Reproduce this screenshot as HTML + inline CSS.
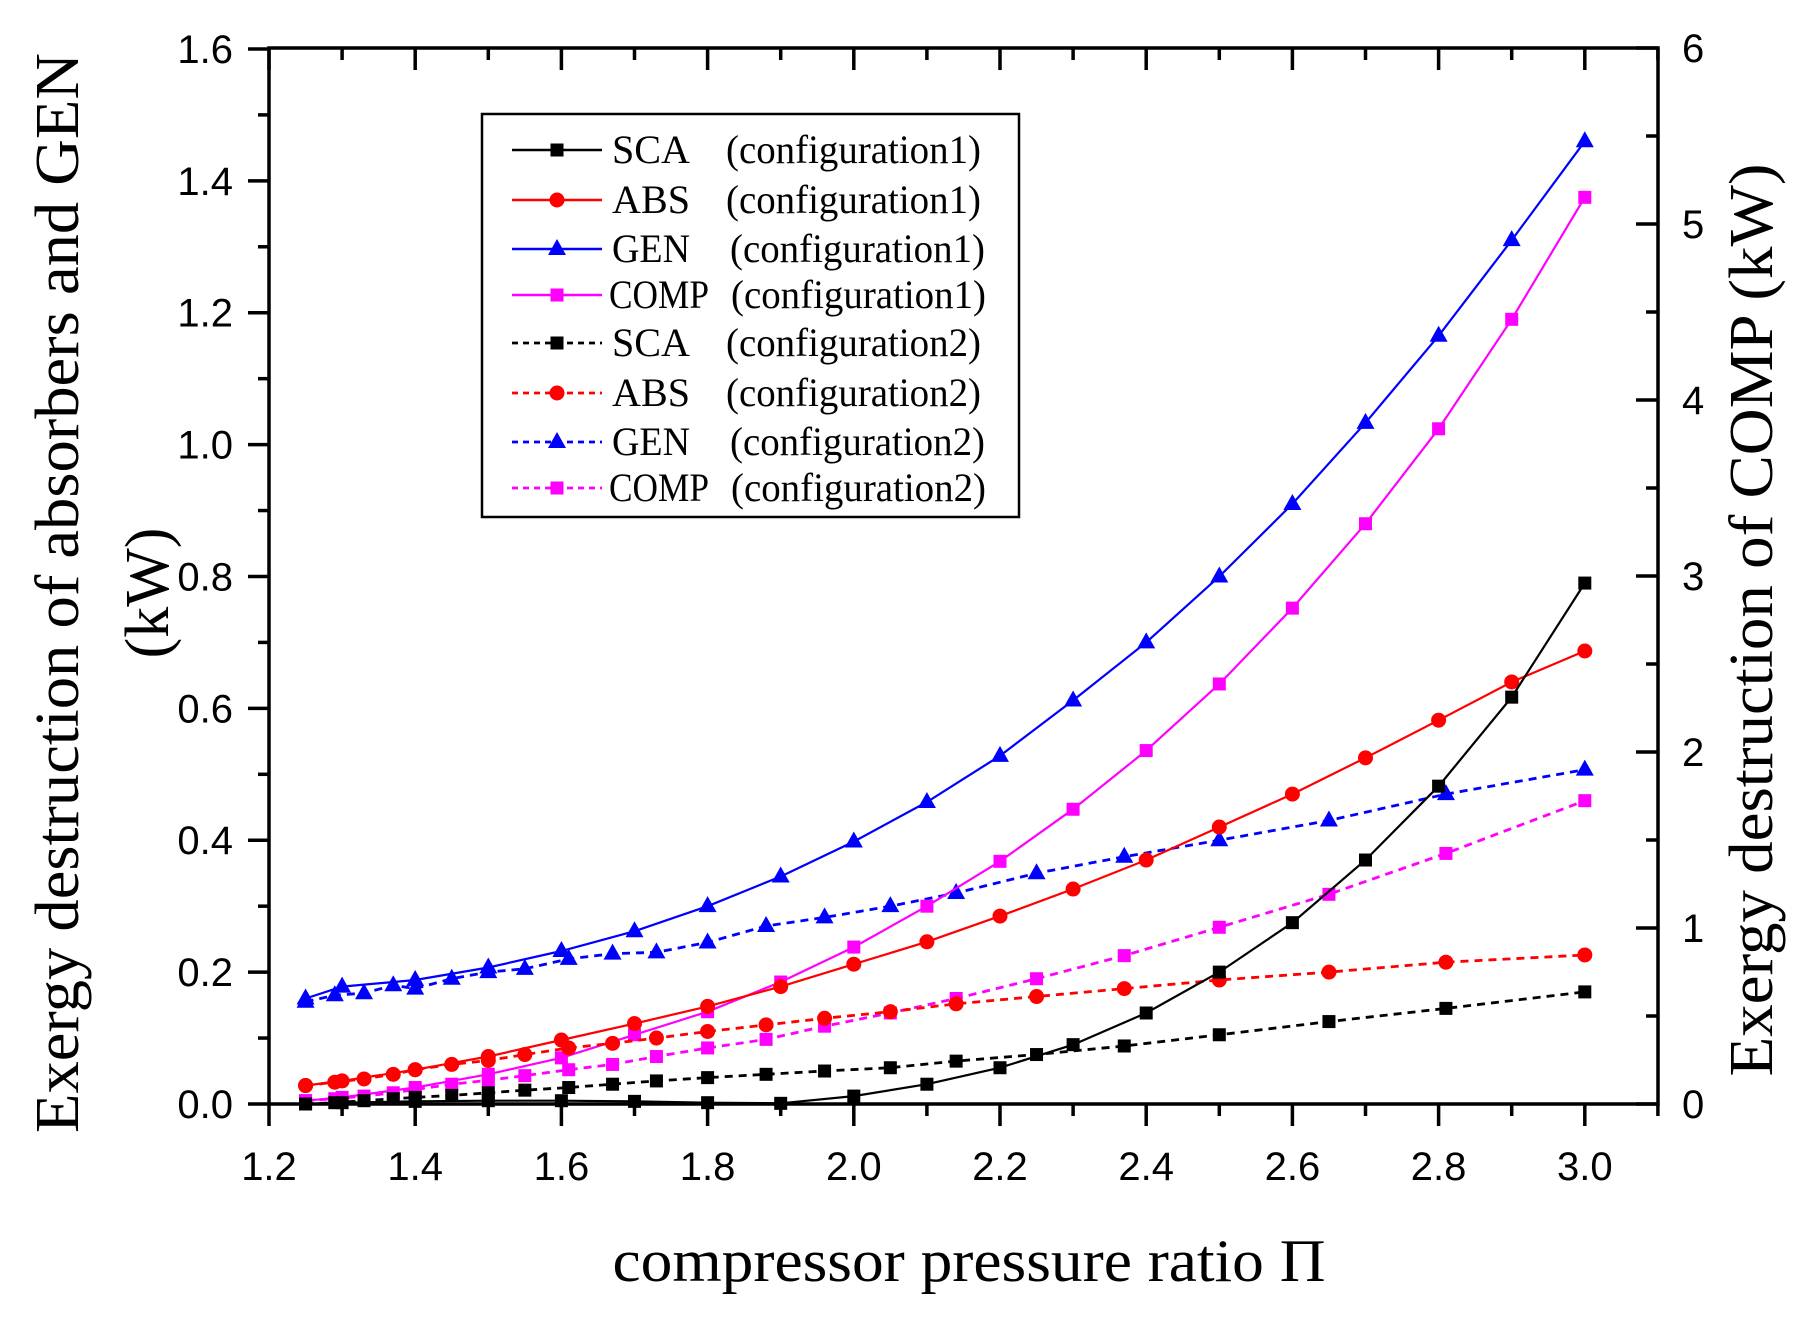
<!DOCTYPE html>
<html><head><meta charset="utf-8"><style>
html,body{margin:0;padding:0;background:#fff;}
svg{display:block;}
</style></head><body>
<svg id="s" width="1815" height="1321" viewBox="0 0 1815 1321" xmlns="http://www.w3.org/2000/svg">
<rect width="1815" height="1321" fill="#fff"/>
<g id="axes" stroke="#000" stroke-width="3.5" fill="none"></g>
<g id="series"></g>
<g font-family="Liberation Sans, sans-serif" font-size="40" fill="#000" id="ticklabels"></g>
<text transform="translate(78,593) rotate(-90)" text-anchor="middle" font-family="Liberation Serif, serif" font-size="62" textLength="1080" lengthAdjust="spacingAndGlyphs">Exergy destruction of absorbers and GEN</text>
<text transform="translate(168,593) rotate(-90)" text-anchor="middle" font-family="Liberation Serif, serif" font-size="62">(kW)</text>
<text transform="translate(1772,620) rotate(-90)" text-anchor="middle" font-family="Liberation Serif, serif" font-size="62" textLength="913" lengthAdjust="spacingAndGlyphs">Exergy destruction of COMP (kW)</text>
<text x="969" y="1281" text-anchor="middle" font-family="Liberation Serif, serif" font-size="60" textLength="713" lengthAdjust="spacingAndGlyphs">compressor pressure ratio Π</text>
<rect x="482" y="114" width="537" height="403" fill="#fff" stroke="#000" stroke-width="2.5"/>
<g id="legend" font-family="Liberation Serif, serif" font-size="40" fill="#000"></g>
</svg>
<script>
var NS="http://www.w3.org/2000/svg";
function el(t,a,p){var e=document.createElementNS(NS,t);for(var k in a)e.setAttribute(k,a[k]);p.appendChild(e);return e;}
var X=function(x){return 269+(x-1.2)*731;}, Y=function(v){return 1104-v*659.4;};
var L=269,R=1658,T=48,B=1104;
var ax=document.getElementById('axes');
el('rect',{x:L,y:T,width:R-L,height:B-T},ax);
var tl=document.getElementById('ticklabels');
// bottom ticks outward, top inward
for(var i=0;i<=19;i++){var x=1.2+i*0.1;var px=X(x);if(px>R+1)break;var maj=(i%2==0);
 el('line',{x1:px,y1:B,x2:px,y2:B+(maj?22:12)},ax);
 el('line',{x1:px,y1:T,x2:px,y2:T+(maj?22:12)},ax);
 if(maj&&x<3.05){var t=el('text',{x:px,y:1180,'text-anchor':'middle'},tl);t.textContent=x.toFixed(1);}
}
for(var i=0;i<=16;i++){var v=i*0.1;var py=Y(v);var maj=(i%2==0);
 el('line',{x1:L,y1:py,x2:L-(maj?21:11),y2:py},ax);
 if(maj){var t=el('text',{x:233,y:py+14,'text-anchor':'end'},tl);t.textContent=v.toFixed(1);}
}
for(var i=0;i<=12;i++){var py=B-i*88;var maj=(i%2==0);
 el('line',{x1:R,y1:py,x2:R-(maj?22:12),y2:py},ax);
 if(maj){var t=el('text',{x:1682,y:py+14},tl);t.textContent=(i/2)+'';}
}
var sg=document.getElementById('series');
function marker(type,x,y,c,g){
 if(type=='s')el('rect',{x:x-6.5,y:y-6.5,width:13,height:13,fill:c},g);
 else if(type=='c')el('circle',{cx:x,cy:y,r:7.5,fill:c},g);
 else el('polygon',{points:(x)+','+(y-10)+' '+(x-9)+','+(y+6)+' '+(x+9)+','+(y+6),fill:c},g);
}
function series(d,c,m,dash){
 var pts=d.map(function(p){return X(p[0]).toFixed(1)+','+Y(p[1]).toFixed(1);}).join(' ');
 var a={points:pts,fill:'none',stroke:c,'stroke-width':dash?2.8:2.2};
 if(dash)a['stroke-dasharray']='8,6';
 el('polyline',a,sg);
 d.forEach(function(p){marker(m,X(p[0]),Y(p[1]),c,sg);});
}
var x1=[1.25,1.3,1.4,1.5,1.6,1.7,1.8,1.9,2.0,2.1,2.2,2.3,2.4,2.5,2.6,2.7,2.8,2.9,3.0];
var x2=[1.25,1.29,1.33,1.37,1.4,1.45,1.5,1.55,1.61,1.67,1.73,1.8,1.88,1.96,2.05,2.14,2.25,2.37,2.5,2.65,2.81,3.0];
function z(xs,vs){return xs.map(function(x,i){return [x,vs[i]];});}
var sca1=z(x1,[0,0.002,0.004,0.005,0.005,0.004,0.002,0.001,0.012,0.03,0.055,0.09,0.138,0.2,0.275,0.37,0.482,0.617,0.79]);
var abs1=z(x1,[0.028,0.035,0.052,0.072,0.097,0.122,0.148,0.178,0.212,0.246,0.285,0.326,0.37,0.42,0.47,0.525,0.582,0.64,0.687]);
var gen1=z(x1,[0.16,0.178,0.188,0.207,0.232,0.262,0.3,0.345,0.398,0.458,0.528,0.612,0.7,0.8,0.91,1.033,1.165,1.31,1.46]);
var comp1=z(x1,[0.005,0.01,0.025,0.045,0.07,0.105,0.14,0.185,0.238,0.3,0.368,0.447,0.536,0.637,0.752,0.88,1.024,1.19,1.375]);
var sca2=z(x2,[0,0.002,0.005,0.008,0.01,0.013,0.017,0.021,0.025,0.03,0.035,0.04,0.045,0.05,0.055,0.065,0.075,0.088,0.105,0.125,0.145,0.17]);
var abs2=z(x2,[0.028,0.033,0.038,0.045,0.052,0.06,0.066,0.075,0.085,0.092,0.1,0.11,0.12,0.13,0.14,0.152,0.163,0.175,0.188,0.2,0.215,0.226]);
var gen2=z(x2,[0.155,0.165,0.168,0.18,0.175,0.19,0.2,0.205,0.22,0.228,0.23,0.245,0.27,0.283,0.3,0.32,0.35,0.375,0.4,0.43,0.47,0.507]);
var comp2=z(x2,[0.005,0.008,0.012,0.017,0.022,0.03,0.036,0.043,0.052,0.06,0.072,0.085,0.098,0.118,0.138,0.16,0.19,0.225,0.268,0.318,0.38,0.46]);
series(gen2,'#0000ff','t',1);series(gen1,'#0000ff','t',0);
series(comp2,'#ff00ff','s',1);series(comp1,'#ff00ff','s',0);
series(abs2,'#ff0000','c',1);series(abs1,'#ff0000','c',0);
series(sca2,'#000','s',1);series(sca1,'#000','s',0);
var lg=document.getElementById('legend');
var rows=[['SCA','1','#000','s',0],['ABS','1','#ff0000','c',0],['GEN','1','#0000ff','t',0],['COMP','1','#ff00ff','s',0],
['SCA','2','#000','s',1],['ABS','2','#ff0000','c',1],['GEN','2','#0000ff','t',1],['COMP','2','#ff00ff','s',1]];
var by=[163,213,262,308,356,406,455,501];
rows.forEach(function(r,i){var y=by[i]-13;
 var a={x1:512,y1:y,x2:602,y2:y,stroke:r[2],'stroke-width':r[4]?2.8:2.5};if(r[4])a['stroke-dasharray']='6,5';
 el('line',a,lg);marker(r[3],557,y,r[2],lg);
 var nx=r[0]=='COMP'?609:612, cx=r[0]=='COMP'?731:(r[0]=='GEN'?730:726);
 var nw={SCA:78,ABS:78,GEN:78,COMP:100}[r[0]];
 var t=el('text',{x:nx,y:by[i],textLength:nw,lengthAdjust:'spacingAndGlyphs'},lg);t.textContent=r[0];
 var t2=el('text',{x:cx,y:by[i],textLength:255,lengthAdjust:'spacingAndGlyphs'},lg);t2.textContent='(configuration'+r[1]+')';
});
</script>
</body></html>
